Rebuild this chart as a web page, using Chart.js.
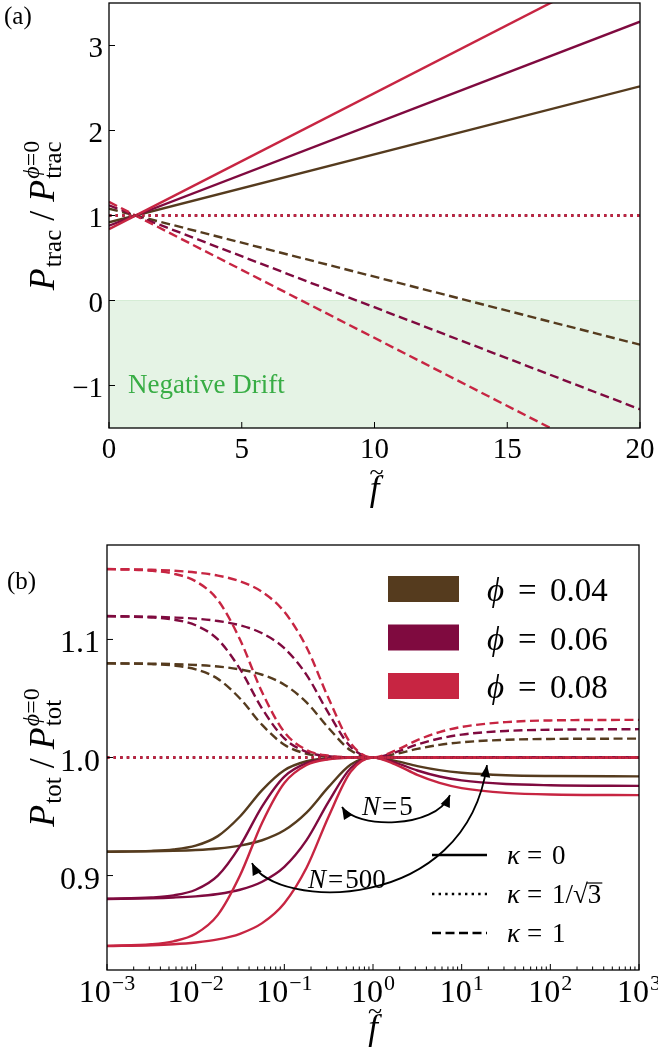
<!DOCTYPE html>
<html>
<head>
  <title>Traction and total power ratio</title>
  <script src="https://cdn.jsdelivr.net/npm/chart.js"></script>
  <style>
    body { margin: 0; background: #fff; }
    canvas { position: absolute; left: 0; }
    #chartA { top: 0; }
    #chartB { top: 510px; }
  </style>
</head>
<body>
  <canvas id="chartA" width="658" height="510"></canvas>
  <canvas id="chartB" width="658" height="547"></canvas>
  <script>
    // ---- panel (a): P_trac / P_trac(phi=0) against f, linear axis ----
    const fLin = [0, 20];
    const tracSolid04 = [0.92, 2.52];
    const tracSolid06 = [0.88, 3.28];
    const tracSolid08 = [0.84, 4.04];
    const tracDash04 = [1.08, -0.52];
    const tracDash06 = [1.12, -1.28];
    const tracDash08 = [1.16, -2.04];
    const tracDotted = [1, 1];
    const driftEdge = [0, 0];

    // ---- panel (b): P_tot / P_tot(phi=0) against f, log axis ----
    const fLog = [0.001, 0.00316, 0.00562, 0.01, 0.0178, 0.0316, 0.0562, 0.1, 0.178, 0.316,
                  0.562, 1, 1.78, 3.16, 5.62, 10, 31.6, 100, 1000];
    const solidN5_04 = [0.9202, 0.9205, 0.9209, 0.9216, 0.9229, 0.9254, 0.9299, 0.9383, 0.9533, 0.9751,
                        0.9941, 1.0, 0.9971, 0.9927, 0.9893, 0.9871, 0.9850, 0.9843, 0.9840];
    const solidN5_06 = [0.8802, 0.8808, 0.8814, 0.8824, 0.8844, 0.8880, 0.8948, 0.9074, 0.9300, 0.9626,
                        0.9911, 1.0, 0.9957, 0.9890, 0.9839, 0.9806, 0.9775, 0.9765, 0.9760];
    const solidN5_08 = [0.8403, 0.8410, 0.8418, 0.8433, 0.8459, 0.8507, 0.8597, 0.8766, 0.9066, 0.9501,
                        0.9881, 1.0, 0.9942, 0.9853, 0.9785, 0.9741, 0.9700, 0.9686, 0.9681];
    const dashN5_04 = [1.0798, 1.0795, 1.0791, 1.0784, 1.0771, 1.0746, 1.0701, 1.0617, 1.0467, 1.0249,
                       1.0059, 1.0, 1.0029, 1.0073, 1.0107, 1.0129, 1.0150, 1.0157, 1.0160];
    const dashN5_06 = [1.1198, 1.1192, 1.1186, 1.1176, 1.1156, 1.1120, 1.1052, 1.0926, 1.0700, 1.0374,
                       1.0089, 1.0, 1.0043, 1.0110, 1.0161, 1.0194, 1.0225, 1.0235, 1.0240];
    const dashN5_08 = [1.1597, 1.1590, 1.1582, 1.1567, 1.1541, 1.1493, 1.1403, 1.1234, 1.0934, 1.0499,
                       1.0119, 1.0, 1.0058, 1.0147, 1.0215, 1.0259, 1.0300, 1.0314, 1.0319];
    const solidN500_04 = [0.9202, 0.9209, 0.9221, 0.9253, 0.9334, 0.9500, 0.9724, 0.9892, 0.9968, 0.9993,
                          0.9999, 1.0, 1.0, 0.9999, 0.9999, 0.9999, 0.9998, 0.9998, 0.9998];
    const solidN500_06 = [0.8803, 0.8814, 0.8832, 0.8880, 0.9000, 0.9250, 0.9586, 0.9838, 0.9952, 0.9989,
                          0.9999, 1.0, 1.0, 0.9999, 0.9998, 0.9998, 0.9998, 0.9998, 0.9998];
    const solidN500_08 = [0.8404, 0.8418, 0.8443, 0.8507, 0.8667, 0.9000, 0.9448, 0.9784, 0.9936, 0.9985,
                          0.9998, 1.0, 0.9999, 0.9999, 0.9998, 0.9997, 0.9997, 0.9997, 0.9997];
    const dashN500_04 = [1.0798, 1.0791, 1.0779, 1.0747, 1.0666, 1.0500, 1.0276, 1.0108, 1.0032, 1.0007,
                         1.0001, 1.0, 1.0, 1.0001, 1.0001, 1.0001, 1.0002, 1.0002, 1.0002];
    const dashN500_06 = [1.1197, 1.1186, 1.1168, 1.1120, 1.1000, 1.0750, 1.0414, 1.0162, 1.0048, 1.0011,
                         1.0001, 1.0, 1.0, 1.0001, 1.0002, 1.0002, 1.0002, 1.0002, 1.0002];
    const dashN500_08 = [1.1596, 1.1582, 1.1557, 1.1493, 1.1333, 1.1000, 1.0552, 1.0216, 1.0064, 1.0015,
                         1.0002, 1.0, 1.0001, 1.0001, 1.0002, 1.0003, 1.0003, 1.0003, 1.0003];
    const fLogEnds = [0.001, 1000];
    const totDotted = [1, 1];

    // labels and ticks
    const phiLabels = ['0.04', '0.06', '0.08'];
    const kappaLabels = ['0', '1/\u221A3', '1'];
    const ticksAX = [0, 5, 10, 15, 20];
    const ticksAY = [-1, 0, 1, 2, 3];
    const ticksBX = [0.001, 0.01, 0.1, 1, 10, 100, 1000];
    const ticksBXExp = ['\u22123', '\u22122', '\u22121', '0', '1', '2', '3'];
    const ticksBY = [0.9, 1.0, 1.1];
    const ticksBYLabels = ['0.9', '1.0', '1.1'];

    // annotations, in data coordinates
    const driftLabelAt = [0.72, -1.086];
    const arrowN5 = [[0.447, 0.958], [0.627, 0.940], [5.0, 0.9386], [7.38, 0.9682]];
    const arrowN500 = [[0.0431, 0.9106], [0.0785, 0.8708], [10.9, 0.8666], [19.3, 0.9936]];
    const labelN5At = [0.752, 0.9513];
    const labelN500At = [0.185, 0.8895];

    const phiColors = ['#553b1e', '#7f0a3f', '#c72542'];
    const SERIF = '"Liberation Serif", "DejaVu Serif", serif';
    const DASH = [9, 4.5];
    const DOT = [2.4, 4.2];

    function font(size, italic) {
      return (italic ? 'italic ' : '') + size + 'px ' + SERIF;
    }

    function series(xs, ys, color, dash) {
      return {
        data: xs.map((x, i) => ({ x: x, y: ys[i] })),
        borderColor: color,
        borderWidth: 2.4,
        borderDash: dash || [],
        borderCapStyle: 'butt',
        pointRadius: 0,
        fill: false,
        cubicInterpolationMode: 'monotone'
      };
    }

    function options(pad, xs, ys) {
      return {
        responsive: false,
        animation: false,
        devicePixelRatio: 1,
        layout: { padding: pad },
        plugins: { legend: { display: false }, tooltip: { enabled: false } },
        scales: {
          x: Object.assign({ display: false }, xs),
          y: Object.assign({ display: false }, ys)
        }
      };
    }

    // text made of runs: {t, size, it, dy, gap} or {stack: [runs, runs]}
    function layoutRuns(ctx, runs, x, y, draw) {
      let cx = x;
      runs.forEach(r => {
        if (r.stack) {
          let end = cx;
          r.stack.forEach(part => { end = Math.max(end, layoutRuns(ctx, part, cx, y, draw)); });
          cx = end;
        } else {
          ctx.font = font(r.size, r.it);
          if (draw) ctx.fillText(r.t, cx, y + (r.dy || 0));
          cx += ctx.measureText(r.t).width + (r.gap || 0);
        }
      });
      return cx;
    }

    function drawYTitle(ctx, runs, xBase, yCenter) {
      ctx.textAlign = 'left';
      const w = layoutRuns(ctx, runs, 0, 0, false);
      ctx.save();
      ctx.translate(xBase, yCenter);
      ctx.rotate(-Math.PI / 2);
      layoutRuns(ctx, runs, -w / 2, 0, true);
      ctx.restore();
    }

    function ratioTitle(sub) {
      return [
        { t: 'P', size: 36, it: true, gap: 1 },
        { t: sub, size: 25, dy: 7 },
        { t: ' / ', size: 36 },
        { t: 'P', size: 36, it: true, gap: 1 },
        { stack: [
          [{ t: '\u03D5', size: 24, it: true, dy: -15 }, { t: '=0', size: 24, dy: -15 }],
          [{ t: sub, size: 25, dy: 7 }]
        ] }
      ];
    }

    function drawFTilde(ctx, cx, base) {
      ctx.textAlign = 'center';
      ctx.font = font(35, true);
      ctx.fillText('f', cx, base);
      ctx.font = font(26);
      ctx.fillText('~', cx + 2, base - 20);
    }

    function tick(ctx, x1, y1, x2, y2) {
      ctx.beginPath();
      ctx.moveTo(x1, y1);
      ctx.lineTo(x2, y2);
      ctx.stroke();
    }

    function frame(ctx, a) {
      ctx.setLineDash([]);
      ctx.strokeStyle = '#000';
      ctx.lineWidth = 1.3;
      ctx.strokeRect(a.left, a.top, a.right - a.left, a.bottom - a.top);
    }

    function arrowHead(ctx, from, tip) {
      const ang = Math.atan2(tip[1] - from[1], tip[0] - from[0]);
      const L = 12, W = 5;
      const bx = tip[0] - L * Math.cos(ang), by = tip[1] - L * Math.sin(ang);
      ctx.beginPath();
      ctx.moveTo(tip[0], tip[1]);
      ctx.lineTo(bx + W * Math.sin(ang), by - W * Math.cos(ang));
      ctx.lineTo(bx - W * Math.sin(ang), by + W * Math.cos(ang));
      ctx.closePath();
      ctx.fill();
    }

    function curvedArrow(ctx, P) {
      ctx.strokeStyle = '#000';
      ctx.fillStyle = '#000';
      ctx.lineWidth = 1.8;
      ctx.setLineDash([]);
      ctx.beginPath();
      ctx.moveTo(P[0][0], P[0][1]);
      ctx.bezierCurveTo(P[1][0], P[1][1], P[2][0], P[2][1], P[3][0], P[3][1]);
      ctx.stroke();
      arrowHead(ctx, P[2], P[3]);
      arrowHead(ctx, P[1], P[0]);
    }

    // ---------- panel (a) ----------
    const decorA = {
      id: 'decorA',
      afterDatasetsDraw(chart) {
        const { ctx, chartArea: a, scales: { x, y } } = chart;
        ctx.save();
        ctx.fillStyle = '#38ad45';
        ctx.font = font(27);
        ctx.textAlign = 'left';
        ctx.fillText('Negative Drift', x.getPixelForValue(driftLabelAt[0]), y.getPixelForValue(driftLabelAt[1]));

        frame(ctx, a);
        ctx.lineWidth = 1;
        ticksAX.forEach(v => { const px = x.getPixelForValue(v); tick(ctx, px, a.bottom, px, a.bottom - 6); });
        ticksAY.forEach(v => { const py = y.getPixelForValue(v); tick(ctx, a.left, py, a.left + 6, py); });

        ctx.fillStyle = '#000';
        ctx.font = font(29);
        ctx.textAlign = 'center';
        ticksAX.forEach(v => ctx.fillText(String(v), x.getPixelForValue(v), a.bottom + 30));
        ctx.textAlign = 'right';
        ticksAY.forEach(v => ctx.fillText(v < 0 ? '\u2212' + (-v) : String(v), a.left - 6, y.getPixelForValue(v) + 11));

        drawFTilde(ctx, (a.left + a.right) / 2, 500);
        drawYTitle(ctx, ratioTitle('trac'), 54, (a.top + a.bottom) / 2);

        ctx.textAlign = 'left';
        ctx.font = font(25);
        ctx.fillText('(a)', 4, 24);
        ctx.restore();
      }
    };

    new Chart(document.getElementById('chartA').getContext('2d'), {
      type: 'line',
      data: {
        datasets: [
          series(fLin, tracDotted, phiColors[2], DOT),
          series(fLin, tracDotted, phiColors[1], DOT),
          series(fLin, tracDotted, phiColors[0], DOT),
          series(fLin, tracSolid08, phiColors[2]),
          series(fLin, tracSolid06, phiColors[1]),
          series(fLin, tracSolid04, phiColors[0]),
          series(fLin, tracDash08, phiColors[2], DASH),
          series(fLin, tracDash06, phiColors[1], DASH),
          series(fLin, tracDash04, phiColors[0], DASH),
          {
            data: fLin.map((x, i) => ({ x: x, y: driftEdge[i] })),
            borderColor: 'rgba(44,160,44,0.15)',
            borderWidth: 1,
            backgroundColor: 'rgba(44,160,44,0.12)',
            fill: 'start',
            pointRadius: 0
          }
        ]
      },
      options: options({ left: 109, right: 18, top: 3, bottom: 82 },
        { type: 'linear', min: 0, max: 20 },
        { min: -1.5, max: 3.5 }),
      plugins: [decorA]
    });

    // ---------- panel (b) ----------
    const decorB = {
      id: 'decorB',
      afterDatasetsDraw(chart) {
        const { ctx, chartArea: a, scales: { x, y } } = chart;
        const px = p => [x.getPixelForValue(p[0]), y.getPixelForValue(p[1])];
        ctx.save();

        curvedArrow(ctx, arrowN500.map(px));
        curvedArrow(ctx, arrowN5.map(px));

        ctx.fillStyle = '#000';
        ctx.textAlign = 'left';
        const n5 = px(labelN5At);
        layoutRuns(ctx, [{ t: 'N', size: 27, it: true, gap: 2 }, { t: '=', size: 27, gap: 2 }, { t: '5', size: 27 }], n5[0], n5[1], true);
        const n500 = px(labelN500At);
        layoutRuns(ctx, [{ t: 'N', size: 27, it: true, gap: 2 }, { t: '=', size: 27, gap: 2 }, { t: '500', size: 27 }], n500[0], n500[1], true);

        // phi legend
        phiLabels.forEach((lab, i) => {
          const cy = a.top + 44 + i * 48.5;
          ctx.fillStyle = phiColors[i];
          ctx.fillRect(a.left + 281, cy - 13, 71, 26);
          ctx.fillStyle = '#000';
          const x0 = a.left + 380;
          ctx.font = font(33, true);
          ctx.fillText('\u03D5', x0, cy + 12);
          ctx.font = font(33);
          ctx.fillText('=', x0 + 31, cy + 12);
          ctx.fillText(lab, x0 + 63, cy + 12);
        });

        // kappa legend
        const kDash = [[], DOT, DASH];
        kappaLabels.forEach((lab, i) => {
          const cy = a.top + 310 + i * 39;
          ctx.strokeStyle = '#000';
          ctx.lineWidth = 2.4;
          ctx.lineCap = 'butt';
          ctx.setLineDash(kDash[i]);
          tick(ctx, a.left + 325, cy, a.left + 380, cy);
          ctx.setLineDash([]);
          const x0 = a.left + 400, base = cy + 9;
          ctx.font = font(27, true);
          ctx.fillText('\u03BA', x0, base);
          ctx.font = font(27);
          ctx.fillText('=', x0 + 20, base);
          ctx.fillText(lab, x0 + 45, base);
          if (lab.indexOf('\u221A') >= 0) {
            const pre = ctx.measureText(lab.slice(0, -1)).width;
            const w3 = ctx.measureText('3').width;
            ctx.lineWidth = 1.2;
            tick(ctx, x0 + 45 + pre - 1, base - 20, x0 + 45 + pre + w3 + 1, base - 20);
          }
        });

        // frame, ticks, labels
        frame(ctx, a);
        ctx.lineWidth = 1;
        ticksBX.forEach(v => { const p = x.getPixelForValue(v); tick(ctx, p, a.bottom, p, a.bottom - 6); });
        for (let k = 0; k < ticksBX.length - 1; k++) {
          for (let m = 2; m <= 9; m++) {
            const p = x.getPixelForValue(ticksBX[k] * m);
            tick(ctx, p, a.bottom, p, a.bottom - 3.5);
          }
        }
        ticksBY.forEach(v => { const p = y.getPixelForValue(v); tick(ctx, a.left, p, a.left + 6, p); });

        ctx.fillStyle = '#000';
        ticksBX.forEach((v, i) => {
          const runs = [{ t: '10', size: 32, gap: 1 }, { t: ticksBXExp[i], size: 22, dy: -12 }];
          ctx.textAlign = 'left';
          const w = layoutRuns(ctx, runs, 0, 0, false);
          layoutRuns(ctx, runs, x.getPixelForValue(v) - w / 2, a.bottom + 32, true);
        });
        ctx.textAlign = 'right';
        ctx.font = font(32);
        ticksBY.forEach((v, i) => ctx.fillText(ticksBYLabels[i], a.left - 7, y.getPixelForValue(v) + 13));

        drawFTilde(ctx, (a.left + a.right) / 2, 529);
        drawYTitle(ctx, ratioTitle('tot'), 54, (a.top + a.bottom) / 2);

        ctx.textAlign = 'left';
        ctx.font = font(25);
        ctx.fillText('(b)', 7, 79);
        ctx.restore();
      }
    };

    new Chart(document.getElementById('chartB').getContext('2d'), {
      type: 'line',
      data: {
        datasets: [
          series(fLogEnds, totDotted, phiColors[2], DOT),
          series(fLogEnds, totDotted, phiColors[1], DOT),
          series(fLogEnds, totDotted, phiColors[0], DOT),
          series(fLog, solidN500_08, phiColors[2]),
          series(fLog, solidN5_08, phiColors[2]),
          series(fLog, dashN500_08, phiColors[2], DASH),
          series(fLog, dashN5_08, phiColors[2], DASH),
          series(fLog, solidN500_06, phiColors[1]),
          series(fLog, solidN5_06, phiColors[1]),
          series(fLog, dashN500_06, phiColors[1], DASH),
          series(fLog, dashN5_06, phiColors[1], DASH),
          series(fLog, solidN500_04, phiColors[0]),
          series(fLog, solidN5_04, phiColors[0]),
          series(fLog, dashN500_04, phiColors[0], DASH),
          series(fLog, dashN5_04, phiColors[0], DASH)
        ]
      },
      options: options({ left: 107, right: 19, top: 35, bottom: 87 },
        { type: 'logarithmic', min: 0.001, max: 1000 },
        { min: 0.82, max: 1.18 }),
      plugins: [decorB]
    });
  </script>
</body>
</html>
